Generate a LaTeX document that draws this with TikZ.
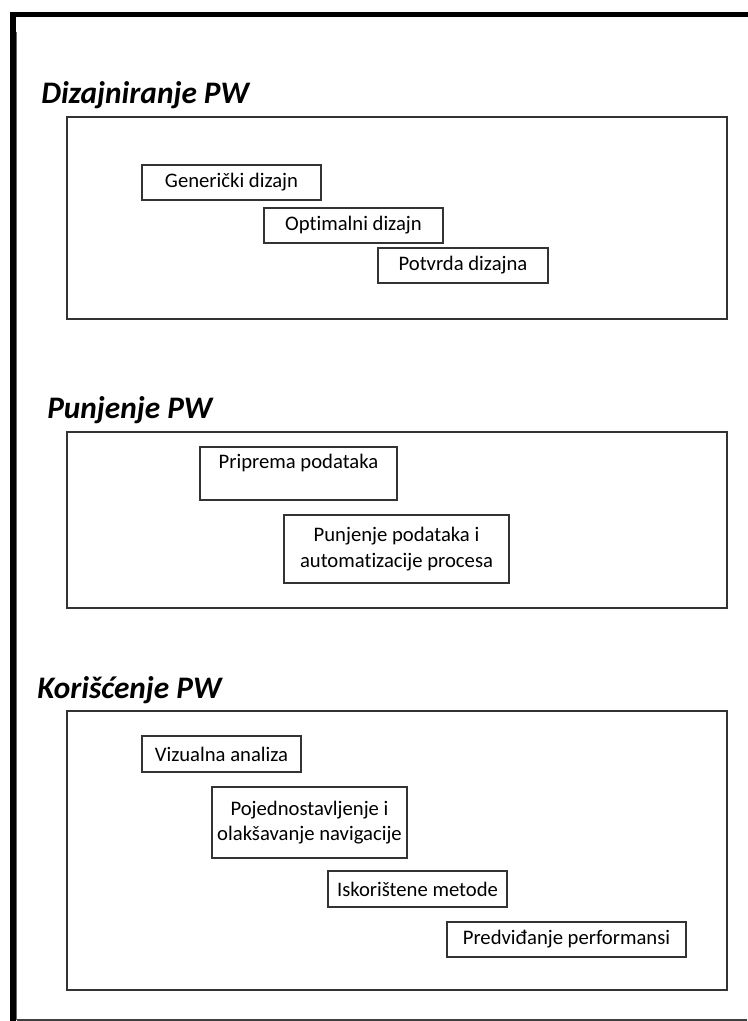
\documentclass[tikz,border=0pt]{standalone}
\usepackage{fontspec}
\setmainfont{Carlito}[Ligatures=NoCommon]
\begin{document}
\begin{tikzpicture}[x=0.75pt,y=-0.75pt,
  frame/.style={draw=black!80, line width=0.9pt, inner sep=0pt},
  panel/.style={frame, minimum width=495pt},
  itembox/.style={frame, font=\fontsize{15.5}{19}\selectfont, align=center},
  heading/.style={font=\fontsize{23.5}{28}\selectfont\bfseries\itshape, anchor=base west, inner sep=0pt}]
\useasboundingbox (0,0) rectangle (747,1021);
\fill[white] (0,0) rectangle (747,1021);

% page frame: heavy top and left rules, light bottom rule
\coordinate (tl) at (13,14.5);
\coordinate (tr) at (747,14.5);
\coordinate (bl) at (13,1021);
\coordinate (sh1) at (16.5,32);
\coordinate (sh2) at (16.5,1020);
\coordinate (br) at (747,1020);
\draw[line width=4pt, line cap=rect] (tr) -- (tl) -- (bl);
\draw[black!60, line width=0.8pt] (sh1) -- (sh2);
\draw[black!75, line width=0.9pt] (sh2) -- (br);

% section 1
\node[heading] (h1) at (41,103) {Dizajniranje PW};
\node[panel, minimum height=151.5pt] (p1) at (397,218) {};
\node[itembox, minimum width=134.25pt, minimum height=26.25pt] (g) at (231.5,182.5) {Generički dizajn};
\node[itembox, minimum width=134.25pt, minimum height=26.25pt] (o) at (353.5,225.5) {Optimalni dizajn};
\node[itembox, minimum width=127.5pt, minimum height=26.25pt] (v) at (463,265.5) {Potvrda dizajna};

% section 2
\node[heading] (h2) at (47,418) {Punjenje PW};
\node[panel, minimum height=132pt] (p2) at (397,520) {};
\node[itembox, minimum width=147.75pt, text height=16pt, text depth=23.75pt] (pp) at (298.5,473.5) {Priprema podataka};
\node[itembox, minimum width=168.75pt, minimum height=51pt] (pu) at (396.5,549) {Punjenje podataka i\\automatizacije procesa};

% section 3
\node[heading] (h3) at (37,698) {Korišćenje PW};
\node[panel, minimum height=209.25pt] (p3) at (397,850.5) {};
\node[itembox, minimum width=119.25pt, minimum height=27pt] (va) at (221.5,754) {Vizualna analiza};
\node[itembox, minimum width=146.25pt, minimum height=53.25pt] (po) at (309.5,822.5) {Pojednostavljenje i\\olakšavanje navigacije};
\node[itembox, minimum width=134.25pt, minimum height=27pt] (im) at (417.5,889) {Iskorištene metode};
\node[itembox, minimum width=179.25pt, minimum height=26.25pt] (pr) at (566.5,939.5) {Predviđanje performansi};
\end{tikzpicture}
\end{document}
